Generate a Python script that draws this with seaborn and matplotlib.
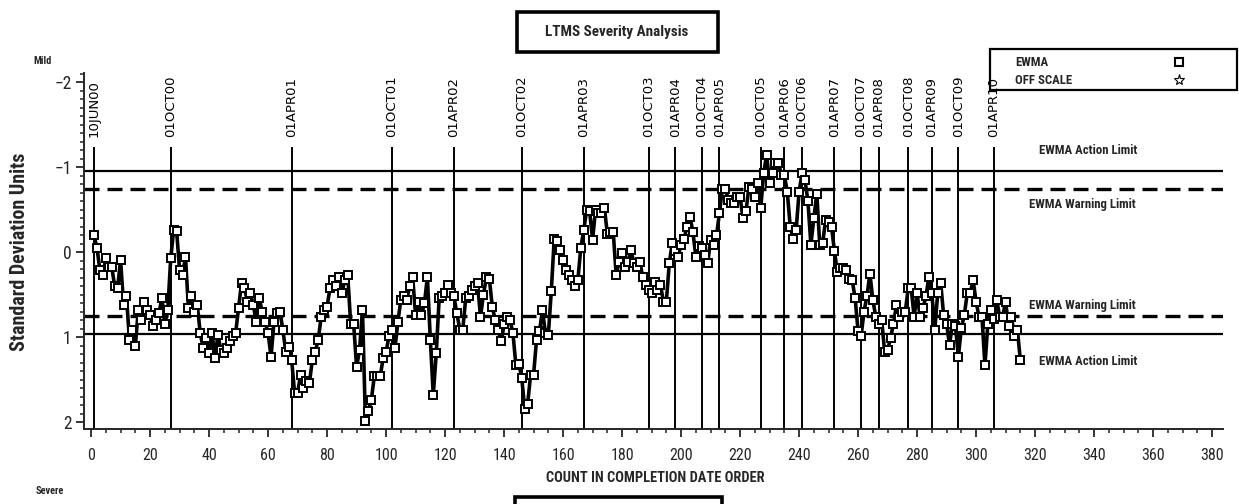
import numpy as np
import pandas as pd
import matplotlib
matplotlib.use('Agg')
import matplotlib.pyplot as plt
from matplotlib.patches import Rectangle
from matplotlib.lines import Line2D
from matplotlib.ticker import MultipleLocator, FixedLocator
from matplotlib import font_manager
import seaborn as sns

# ---------------- data ----------------
ewma = [
    -0.20, -0.05, 0.21, 0.27, 0.07, 0.17, 0.17, 0.40, 0.42, 0.09,
    0.62, 0.52, 1.03, 0.91, 1.10, 0.68, 0.80, 0.58, 0.68, 0.74,
    0.87, 0.80, 0.72, 0.54, 0.84, 0.68, 0.07, -0.26, -0.25, 0.21,
    0.27, 0.05, 0.66, 0.52, 0.70, 0.62, 0.95, 1.13, 1.01, 1.19,
    0.95, 1.25, 0.97, 1.15, 1.19, 1.13, 1.05, 0.99, 0.95, 0.66,
    0.36, 0.42, 0.58, 0.48, 0.62, 0.82, 0.54, 0.70, 0.82, 0.95,
    1.23, 0.82, 0.72, 0.70, 0.91, 1.17, 1.11, 1.27, 1.66, 1.66,
    1.44, 1.60, 1.52, 1.54, 1.27, 1.17, 1.03, 0.76, 0.68, 0.64,
    0.42, 0.33, 0.40, 0.29, 0.48, 0.33, 0.27, 0.84, 0.84, 1.35,
    1.15, 0.68, 1.99, 1.87, 1.74, 1.46, 1.46, 1.46, 1.25, 1.17,
    0.99, 0.91, 1.13, 0.82, 0.56, 0.52, 0.56, 0.40, 0.29, 0.74,
    0.58, 0.74, 0.60, 0.29, 1.03, 1.68, 1.19, 0.54, 0.52, 0.48,
    0.38, 0.48, 0.52, 0.72, 0.91, 0.91, 0.54, 0.52, 0.44, 0.40,
    0.36, 0.76, 0.50, 0.29, 0.31, 0.64, 0.80, 0.91, 1.05, 0.85,
    0.76, 0.80, 0.95, 1.33, 1.31, 1.48, 1.85, 1.78, 1.44, 1.44,
    1.03, 0.93, 0.68, 0.95, 0.97, 0.46, -0.16, -0.13, -0.03, 0.09,
    0.21, 0.27, 0.33, 0.40, 0.33, -0.05, -0.26, -0.50, -0.48, -0.15,
    -0.50, -0.46, -0.46, -0.52, -0.22, -0.24, -0.24, 0.27, 0.11, 0.01,
    0.17, 0.11, -0.03, 0.13, 0.17, 0.11, 0.29, 0.38, 0.44, 0.48,
    0.35, 0.44, 0.38, 0.58, 0.58, 0.13, -0.11, -0.01, 0.05, -0.09,
    -0.16, -0.30, -0.42, -0.24, 0.05, -0.07, -0.05, 0.03, 0.13, -0.15,
    -0.09, -0.20, -0.46, -0.75, -0.75, -0.62, -0.58, -0.58, -0.65, -0.65,
    -0.40, -0.48, -0.77, -0.75, -0.65, -0.81, -0.52, -0.93, -1.15, -0.81,
    -0.93, -1.05, -1.05, -0.91, -0.91, -0.71, -0.30, -0.16, -0.26, -0.71,
    -0.93, -0.85, -0.60, -0.09, -0.40, -0.69, -0.09, -0.11, -0.38, -0.36,
    -0.30, -0.01, 0.23, 0.19, 0.19, 0.21, 0.31, 0.33, 0.54, 0.93,
    0.99, 0.70, 0.52, 0.25, 0.56, 0.76, 0.85, 0.80, 1.17, 1.15,
    1.01, 0.84, 0.62, 0.76, 0.70, 0.70, 0.42, 0.42, 0.76, 0.48,
    0.76, 0.66, 0.52, 0.29, 0.48, 0.91, 0.48, 0.36, 0.74, 0.84,
    1.09, 0.84, 0.87, 1.23, 0.89, 0.74, 0.48, 0.48, 0.33, 0.58,
    0.76, 0.76, 1.33, 0.84, 0.68, 0.78, 0.56, 0.76, 0.76, 0.58,
    0.87, 0.76, 0.99, 0.91, 1.27,
]
count = list(range(1, len(ewma) + 1))

date_labels = ['10JUN00', '01OCT00', '01APR01', '01OCT01', '01APR02', '01OCT02',
               '01APR03', '01OCT03', '01APR04', '01OCT04', '01APR05', '01OCT05',
               '01APR06', '01OCT06', '01APR07', '01OCT07', '01APR08', '01OCT08',
               '01APR09', '01OCT09', '01APR10']
date_counts = [1, 27, 68, 102, 123, 146, 167, 189, 198, 207, 213, 227, 235,
               241, 252, 261, 267, 277, 285, 294, 306]

action_limit = 0.96
warning_limit = 0.745
x_ticks = list(range(0, 381, 20))
y_ticks = [-2, -1, 0, 1, 2]

# ---------------- style ----------------
sns.set_style('ticks')
names = {f.name for f in font_manager.fontManager.ttflist}
COND = 'Liberation Sans'
for cand in ['Liberation Sans Narrow', 'Roboto Condensed', 'DejaVu Sans Condensed',
             'Open Sans Condensed', 'Liberation Sans']:
    if cand in names:
        COND = cand
        break
NARROW = COND != 'Liberation Sans'
sc = 1.15 if NARROW else 1.0
plt.rcParams['font.family'] = [COND, 'DejaVu Sans']
plt.rcParams['axes.unicode_minus'] = True

W, H = 1239, 504
fig = plt.figure(figsize=(W / 100, H / 100), dpi=100)
fig.patch.set_facecolor('white')


def fx(px):
    return px / W


def fy(py):
    return 1 - py / H


ax = fig.add_axes([fx(84), fy(429), fx(1223) - fx(84), fy(73) - fy(429)])
ax.set_facecolor('white')

df = pd.DataFrame({'count': count, 'ewma': ewma})
sns.lineplot(data=df, x='count', y='ewma', ax=ax, color='black', linewidth=2.6,
             marker='s', markersize=5.5, markerfacecolor='white',
             markeredgecolor='black', markeredgewidth=1.4, zorder=5,
             legend=False)
ax.set_xlabel('')
ax.set_ylabel('')

ax.set_xlim(-2.4, 383.7)
ax.set_ylim(2.08, -2.11)

# limit lines
ax.axhline(-action_limit, color='black', lw=1.6, zorder=2)
ax.axhline(action_limit, color='black', lw=1.6, zorder=2)
ax.axhline(-warning_limit, color='black', lw=2.4, ls=(0, (4.5, 2.4)), zorder=2)
ax.axhline(warning_limit, color='black', lw=2.4, ls=(0, (4.5, 2.4)), zorder=2)

# date reference lines
ax.vlines(date_counts, -1.24, 2.08, color='black', lw=1.4, zorder=1)
for xc, lab in zip(date_counts, date_labels):
    ax.text(xc, -1.36, lab, rotation=90, ha='center', va='bottom',
            fontsize=9.5, family='DejaVu Sans', color='black')

# limit labels
lab_fs = 8 * sc
ax.text(338, -1.20, 'EWMA Action Limit', ha='center', va='center', fontsize=lab_fs, fontweight='bold')
ax.text(336, -0.56, 'EWMA Warning Limit', ha='center', va='center', fontsize=lab_fs, fontweight='bold')
ax.text(336, 0.63, 'EWMA Warning Limit', ha='center', va='center', fontsize=lab_fs, fontweight='bold')
ax.text(338, 1.29, 'EWMA Action Limit', ha='center', va='center', fontsize=lab_fs, fontweight='bold')

# axes / ticks
for s in ['top', 'right']:
    ax.spines[s].set_visible(False)
ax.spines['left'].set_linewidth(1.4)
ax.spines['bottom'].set_linewidth(1.4)
ax.set_xticks(x_ticks)
ax.set_xticklabels([str(v) for v in x_ticks])
ax.set_yticks(y_ticks)
ax.set_yticklabels(['\u22122', '\u22121', '0', '1', '2'])
ax.xaxis.set_minor_locator(MultipleLocator(5))
ax.yaxis.set_minor_locator(MultipleLocator(0.1))
ax.tick_params(axis='both', which='major', length=6, width=1.3, labelsize=10 * sc,
               direction='out', pad=8)
ax.tick_params(axis='both', which='minor', length=3, width=1.1, direction='out')
ax.tick_params(axis='y', which='major', pad=3, labelsize=11 * sc)

# axis titles
fig.text(fx(20), fy(252), 'Standard Deviation Units', rotation=90, ha='center', va='center',
         fontsize=12.5 * sc, fontweight='bold')
fig.text(fx(655), fy(478), 'COUNT IN COMPLETION DATE ORDER', ha='center', va='center',
         fontsize=9 * sc, fontweight='bold')
fig.text(fx(43), fy(61), 'Mild', ha='center', va='center', fontsize=6.5 * sc, fontweight='bold')
fig.text(fx(50), fy(491), 'Severe', ha='center', va='center', fontsize=6.5 * sc, fontweight='bold')

# title box
fig.patches.append(Rectangle((fx(517), fy(52)), fx(718) - fx(517), fy(12) - fy(52),
                             transform=fig.transFigure, fill=False, lw=2.6, ec='black'))
fig.text(fx(617), fy(32), 'LTMS Severity Analysis', ha='center', va='center',
         fontsize=9.5 * sc, fontweight='bold')

# bottom (cut) box
fig.patches.append(Rectangle((fx(515), fy(520)), fx(722) - fx(515), fy(497) - fy(520),
                             transform=fig.transFigure, fill=False, lw=2.6, ec='black'))

# legend box
fig.patches.append(Rectangle((fx(990), fy(90)), fx(1237) - fx(990), fy(49) - fy(90),
                             transform=fig.transFigure, fill=False, lw=1.6, ec='black'))
fig.text(fx(1015), fy(63), 'EWMA', ha='left', va='center', fontsize=8 * sc, fontweight='bold')
fig.text(fx(1015), fy(81), 'OFF SCALE', ha='left', va='center', fontsize=8 * sc, fontweight='bold')
fig.lines.append(Line2D([fx(1179)], [fy(62)], transform=fig.transFigure, marker='s',
                        markersize=6, markerfacecolor='white', markeredgecolor='black',
                        markeredgewidth=1.5, ls='none'))
fig.lines.append(Line2D([fx(1179)], [fy(80)], transform=fig.transFigure, marker='*',
                        markersize=8, markerfacecolor='white', markeredgecolor='black',
                        markeredgewidth=0.8, ls='none'))

fig.savefig('out.png', dpi=100, facecolor='white')
